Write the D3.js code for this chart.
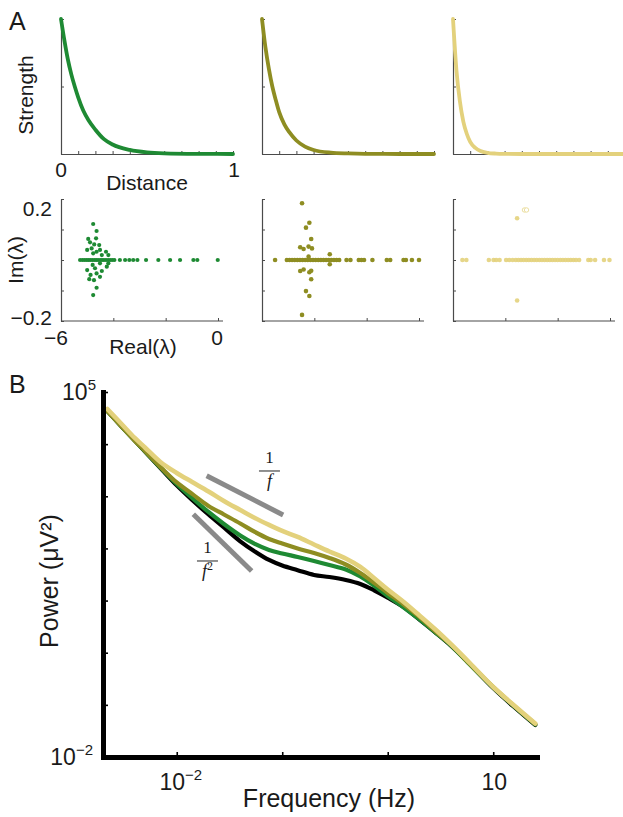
<!DOCTYPE html>
<html>
<head>
<meta charset="utf-8">
<script src="https://cdn.jsdelivr.net/npm/d3@7"></script>
<style>
  body { margin: 0; background: #fff; }
  svg { display: block; }
  text { font-family: "Liberation Sans", Arial, sans-serif; fill: #1a1a1a; }
  .serif { font-family: "Liberation Serif", "DejaVu Serif", serif; }
</style>
</head>
<body>
<svg id="fig" width="623" height="817"></svg>
<script>
// ---------------- data ----------------
// connectivity profiles: strength vs. normalised distance
const distance       = [0, 0.02, 0.04, 0.06, 0.08, 0.10, 0.13, 0.16, 0.20, 0.25, 0.30, 0.40, 0.50, 0.60, 0.80, 1.00];
const strengthGreen  = [1, 0.84, 0.70, 0.59, 0.50, 0.42, 0.32, 0.25, 0.18, 0.11, 0.07, 0.03, 0.012, 0.005, 0.001, 0];
const strengthOlive  = [1, 0.79, 0.63, 0.50, 0.40, 0.31, 0.22, 0.16, 0.10, 0.055, 0.03, 0.01, 0.004, 0.001, 0, 0];
const strengthYellow = [1, 0.62, 0.39, 0.24, 0.15, 0.09, 0.045, 0.022, 0.009, 0.003, 0.001, 0, 0, 0, 0, 0];

// eigenvalue spectra [Re, Im]
const eigGreen = [
  [-5.27,0],[-5.18,0],[-5.10,0],[-5.02,0],[-4.95,0],[-4.88,0],[-4.80,0],[-4.72,0],[-4.65,0],[-4.58,0],
  [-4.50,0],[-4.43,0],[-4.36,0],[-4.28,0],[-4.20,0],[-4.12,0],[-4.04,0],[-3.96,0],[-3.75,0],[-3.55,0],
  [-3.39,0],[-3.24,0],[-3.08,0],[-2.75,0],[-2.28,0],[-1.83,0],[-1.45,0],[-0.94,0],[-0.79,0],[-0.01,0],
  [-4.77,0.118],[-4.64,0.095],[-4.96,0.069],[-4.66,0.071],[-4.89,0.058],[-4.73,0.051],[-4.54,0.049],
  [-4.83,0.038],[-5.00,0.033],[-4.51,0.033],[-4.64,0.027],[-4.28,0.027],[-4.77,0.022],[-4.44,0.016],[-4.19,0.016],
  [-4.77,-0.115],[-4.64,-0.091],[-4.92,-0.063],[-4.74,-0.066],[-4.51,-0.055],[-4.87,-0.049],[-4.64,-0.044],
  [-4.44,-0.036],[-5.00,-0.033],[-4.70,-0.027],[-4.25,-0.022],[-4.79,-0.016],[-4.51,-0.011],[-4.19,-0.011]
];
const eigOlive = [
  [-5.50,0],[-5.05,0],[-4.95,0],[-4.85,0],[-4.75,0],[-4.65,0],[-4.55,0],[-4.45,0],[-4.35,0],[-4.25,0],
  [-4.15,0],[-4.05,0],[-3.95,0],[-3.85,0],[-3.75,0],[-3.65,0],[-3.55,0],[-3.45,0],[-3.35,0],[-3.25,0],
  [-3.15,0],[-3.05,0],[-2.77,0],[-2.62,0],[-2.30,0],[-2.20,0],[-2.10,0],[-1.78,0],[-1.23,0],[-1.10,0],
  [-0.59,0],[-0.50,0],[-0.27,0],[0,0],
  [-4.47,0.186],[-4.19,0.122],[-4.32,0.106],[-4.12,0.069],[-4.54,0.042],[-4.41,0.036],[-4.22,0.044],
  [-4.09,0.038],[-3.41,0.019],[-4.22,0.011],
  [-3.41,-0.014],[-4.54,-0.036],[-4.41,-0.031],[-4.19,-0.040],[-4.12,-0.035],[-4.12,-0.063],
  [-4.32,-0.102],[-4.19,-0.118],[-4.47,-0.180]
];
const eigYellow = [
  [-5.64,0],[-5.49,0],[-4.63,0],[-4.45,0],[-4.35,0],[-4.22,0],
  [-3.97,0],[-3.85,0],[-3.72,0],[-3.60,0],[-3.50,0],[-3.40,0],[-3.30,0],[-3.20,0],[-3.10,0],[-3.00,0],
  [-2.90,0],[-2.80,0],[-2.70,0],[-2.60,0],[-2.50,0],[-2.40,0],[-2.30,0],[-2.20,0],[-2.10,0],[-2.00,0],
  [-1.90,0],[-1.80,0],[-1.70,0],[-1.60,0],[-1.50,0],[-1.40,0],[-1.30,0],[-1.18,0],
  [-0.83,0],[-0.74,0],[-0.57,0],[-0.23,0],[-0.02,0],
  [-3.55,0.137],[-3.55,-0.133]
];
const eigYellowFaint = [[-3.27,0.164],[-3.19,0.164]];

// power spectra (Hz, µV^2)
const frequencyHz = [0.0022, 0.003, 0.004, 0.005, 0.007, 0.01, 0.014, 0.02, 0.028, 0.04, 0.055, 0.075, 0.1, 0.14,
                     0.2, 0.28, 0.4, 0.55, 0.75, 1, 1.4, 2, 2.8, 4, 6, 10, 16, 25];
const powerBlack  = [43250, 21730, 11650, 7200, 3490, 1620, 849, 448, 252, 137, 87.3, 60.0, 46.9, 38.3,
                     31.0, 28.3, 24.8, 20.8, 15.6, 11.4, 7.60, 4.32, 2.49, 1.35, 0.608, 0.210, 0.0889, 0.0411];
const powerGreen  = [43250, 21730, 11650, 7260, 3570, 1720, 927, 500, 294, 177, 122, 93.3, 80.0, 68.5,
                     57.4, 48.1, 39.4, 29.0, 19.0, 12.2, 7.53, 4.34, 2.49, 1.37, 0.594, 0.215, 0.0910, 0.0420];
const powerOlive  = [43250, 21730, 11650, 7390, 3650, 1840, 1110, 652, 448, 301, 207, 152, 124, 99.8,
                     81.8, 65.6, 49.2, 33.8, 21.7, 14.0, 8.59, 4.84, 2.61, 1.41, 0.608, 0.220, 0.0931, 0.0430];
const powerYellow = [47210, 24380, 13120, 8630, 4550, 2800, 1880, 1240, 813, 546, 384, 282, 216, 166,
                     119, 87.3, 64.1, 44.1, 26.5, 16.3, 9.60, 5.18, 2.85, 1.44, 0.635, 0.220, 0.0951, 0.0440];

// reference slopes 1/f and 1/f^2 (end points in Hz, µV^2)
const slopeOneF  = { f: [0.0192, 0.102],  p: [2480, 438] };
const slopeTwoF  = { f: [0.01436, 0.0513], p: [452, 36.9] };
const slopeLabelAnchors = [[0.0757, 3055], [0.01956, 57.4]];

const powerTicks = [1e-2, 1e-1, 1, 1e1, 1e2, 1e3, 1e4, 1e5];
const freqTicks  = [1e-2, 1e-1, 1, 10];

// ---------------- drawing ----------------
const svg = d3.select("#fig");
const cGreen = "#1e8a33", cOlive = "#8e8d22", cYellow = "#e3d17c";
const axisGray = "#4a4a4a";

// panel letters
svg.append("text").attr("x", 9).attr("y", 30).attr("font-size", 25).text("A");
svg.append("text").attr("x", 9).attr("y", 393).attr("font-size", 25).text("B");

const colLeft = [61, 262, 453];

function styleThinAxis(g) {
  g.selectAll("path.domain").attr("stroke", axisGray).attr("stroke-width", 1.2);
  g.selectAll(".tick line").attr("stroke", axisGray).attr("stroke-width", 1);
  g.selectAll(".tick text").remove();
}

// --- top row: strength profiles
const profiles = [
  { s: strengthGreen,  c: cGreen },
  { s: strengthOlive,  c: cOlive },
  { s: strengthYellow, c: cYellow }
];
profiles.forEach((p, i) => {
  const x0 = colLeft[i];
  const xs = d3.scaleLinear([0, 1], [x0, x0 + 172]);
  const ys = d3.scaleLinear([0, 1], [154, 19]);
  const g = svg.append("g");
  g.append("g").attr("transform", "translate(0,154)")
    .call(d3.axisBottom(xs).tickValues(d3.range(0, 1.001, 0.1)).tickSizeInner(-3).tickSizeOuter(0))
    .call(styleThinAxis);
  g.append("g").attr("transform", `translate(${x0},0)`)
    .call(d3.axisLeft(ys).tickValues([0, 0.5, 1]).tickSizeInner(-3).tickSizeOuter(0))
    .call(styleThinAxis);
  const line = d3.line().x((d, k) => xs(distance[k])).y(d => ys(d)).curve(d3.curveMonotoneX);
  g.append("path").datum(p.s).attr("d", line)
    .attr("fill", "none").attr("stroke", p.c).attr("stroke-width", 3.8)
    .attr("stroke-linecap", "round");
});

// labels for first profile
svg.append("text").attr("x", 61).attr("y", 177).attr("text-anchor", "middle").attr("font-size", 21).text("0");
svg.append("text").attr("x", 234).attr("y", 177).attr("text-anchor", "middle").attr("font-size", 21).text("1");
svg.append("text").attr("x", 147).attr("y", 190).attr("text-anchor", "middle").attr("font-size", 21).text("Distance");
svg.append("text").attr("transform", "translate(33,95) rotate(-90)").attr("text-anchor", "middle")
  .attr("font-size", 21).text("Strength");

// --- second row: eigenvalue spectra
const spectra = [
  { pts: eigGreen,  c: cGreen,  r: 2.1 },
  { pts: eigOlive,  c: cOlive,  r: 2.3 },
  { pts: eigYellow, c: cYellow, r: 2.3 }
];
spectra.forEach((sp, i) => {
  const x0 = colLeft[i];
  const xs = d3.scaleLinear([-6, 0], [x0, x0 + 157]);
  const ys = d3.scaleLinear([-0.2, 0.2], [321, 199]);
  const g = svg.append("g");
  g.append("g").attr("transform", "translate(0,321)")
    .call(d3.axisBottom(xs).tickValues([-6, -4, -2, 0]).tickSizeInner(-3).tickSizeOuter(0))
    .call(styleThinAxis)
    .call(a => a.select("path.domain").attr("d", `M${x0},0H${x0 + 162}`));
  g.append("g").attr("transform", `translate(${x0},0)`)
    .call(d3.axisLeft(ys).tickValues([-0.2, -0.1, 0, 0.1, 0.2]).tickSizeInner(-3).tickSizeOuter(0))
    .call(styleThinAxis);
  g.selectAll("circle.pt").data(sp.pts).join("circle").attr("class", "pt")
    .attr("cx", d => xs(d[0])).attr("cy", d => ys(d[1])).attr("r", sp.r)
    .attr("fill", sp.c).attr("fill-opacity", i === 2 ? 0.9 : 1);
  if (i === 2) {
    g.selectAll("circle.faint").data(eigYellowFaint).join("circle").attr("class", "faint")
      .attr("cx", d => xs(d[0])).attr("cy", d => ys(d[1])).attr("r", 2.2)
      .attr("fill", "#fff").attr("stroke", cYellow).attr("stroke-width", 1).attr("stroke-opacity", 0.7);
  }
});

svg.append("text").attr("x", 52).attr("y", 216).attr("text-anchor", "end").attr("font-size", 21).text("0.2");
svg.append("text").attr("x", 52).attr("y", 325).attr("text-anchor", "end").attr("font-size", 21).text("\u22120.2");
svg.append("text").attr("x", 56).attr("y", 345).attr("text-anchor", "middle").attr("font-size", 21).text("\u22126");
svg.append("text").attr("x", 217).attr("y", 345).attr("text-anchor", "middle").attr("font-size", 21).text("0");
svg.append("text").attr("x", 143).attr("y", 354).attr("text-anchor", "middle").attr("font-size", 21).text("Real(\u03bb)");
svg.append("text").attr("transform", "translate(23,260) rotate(-90)").attr("text-anchor", "middle")
  .attr("font-size", 21).text("Im(\u03bb)");

// --- panel B: power spectra
const xB = d3.scaleLog([0.002, 26], [103, 537]);
const yB = d3.scaleLog([1e-2, 1e5], [757, 392]);
const gB = svg.append("g");

const curves = [
  { p: powerBlack,  c: "#000000", w: 4.2 },
  { p: powerGreen,  c: cGreen,    w: 4.2 },
  { p: powerOlive,  c: cOlive,    w: 4.2 },
  { p: powerYellow, c: cYellow,   w: 4.6 }
];
const specLine = d3.line().x((d, k) => xB(frequencyHz[k])).y(d => yB(d))
  .curve(d3.curveCatmullRom.alpha(0.5));
curves.forEach(cv => {
  gB.append("path").datum(cv.p).attr("d", specLine)
    .attr("fill", "none").attr("stroke", cv.c).attr("stroke-width", cv.w)
    .attr("stroke-linecap", "round").attr("stroke-linejoin", "round");
});

// reference slopes
[slopeOneF, slopeTwoF].forEach(s => {
  gB.append("line")
    .attr("x1", xB(s.f[0])).attr("y1", yB(s.p[0]))
    .attr("x2", xB(s.f[1])).attr("y2", yB(s.p[1]))
    .attr("stroke", "#8a8a8a").attr("stroke-width", 5);
});

// fraction labels 1/f and 1/f^2
function fraction(anchor, denomSup) {
  const cx = xB(anchor[0]), by = yB(anchor[1]);
  const g = gB.append("g");
  g.append("text").attr("class", "serif").attr("x", cx).attr("y", by - 8)
    .attr("text-anchor", "middle").attr("font-size", 17).text("1");
  g.append("line").attr("x1", cx - 10.5).attr("x2", cx + 10.5).attr("y1", by).attr("y2", by)
    .attr("stroke", "#222").attr("stroke-width", 1);
  const t = g.append("text").attr("class", "serif").attr("x", cx).attr("y", by + 16)
    .attr("text-anchor", "middle").attr("font-size", 18);
  t.append("tspan").attr("font-style", "italic").text("f");
  if (denomSup) t.append("tspan").attr("font-size", 12).attr("dy", -7).text(denomSup);
}
fraction(slopeLabelAnchors[0], null);
fraction(slopeLabelAnchors[1], "2");

// axes
const yAxisB = gB.append("g").attr("transform", "translate(103,0)")
  .call(d3.axisLeft(yB).tickValues(powerTicks).tickSizeInner(-5).tickSizeOuter(0).tickFormat(""));
const xAxisB = gB.append("g").attr("transform", "translate(0,757)")
  .call(d3.axisBottom(xB).tickValues(freqTicks).tickSizeInner(-5).tickSizeOuter(0).tickFormat(""));
[yAxisB, xAxisB].forEach(a => {
  a.select("path.domain").attr("stroke", "#000").attr("stroke-width", 5).attr("stroke-linecap", "square");
  a.selectAll(".tick line").attr("stroke", "#000").attr("stroke-width", 1.6);
});

function powerLabel(x, y, anchor, base, sup) {
  const t = gB.append("text").attr("x", x).attr("y", y).attr("text-anchor", anchor).attr("font-size", 23);
  t.append("tspan").text(base);
  if (sup) t.append("tspan").attr("font-size", 15).attr("dy", -10).text(sup);
}
powerLabel(96, yB(1e5) + 8, "end", "10", "5");
powerLabel(93, yB(1e-2) + 8, "end", "10", "\u22122");
powerLabel(xB(1e-2) + 4, 790, "middle", "10", "\u22122");
powerLabel(xB(10) + 1, 790, "middle", "10", null);

gB.append("text").attr("x", 329).attr("y", 807).attr("text-anchor", "middle").attr("font-size", 25)
  .text("Frequency (Hz)");
gB.append("text").attr("transform", "translate(58,581) rotate(-90)").attr("text-anchor", "middle")
  .attr("font-size", 25).text("Power (\u03bcV\u00b2)");
</script>
</body>
</html>
